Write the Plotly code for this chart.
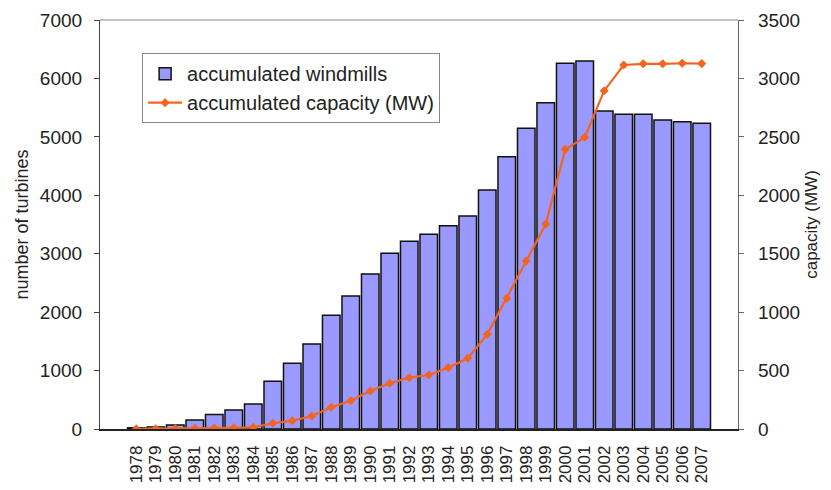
import plotly.graph_objects as go

years = [str(y) for y in range(1978, 2008)]
windmills = [20, 35, 70, 154, 250, 325, 428, 816, 1124, 1455, 1946, 2276, 2653, 3007, 3215,
             3332, 3480, 3646, 4090, 4660, 5146, 5585, 6259, 6298, 5443, 5386, 5386, 5289, 5260, 5232]
capacity = [1, 2, 3, 5, 8, 10, 14, 49, 71, 111, 186, 242, 325, 391, 439,
            462, 525, 605, 810, 1118, 1438, 1754, 2393, 2496, 2895, 3115, 3125, 3125, 3130, 3127]

font_family = "Liberation Sans, Arial, sans-serif"
txt = "#222222"

fig = go.Figure()
fig.add_trace(go.Bar(
    x=years, y=windmills, name="accumulated windmills",
    marker=dict(color="#9999FF", line=dict(color="#111111", width=1.5)),
    yaxis="y",
))
fig.add_trace(go.Scatter(
    x=years, y=capacity, name="accumulated capacity (MW)",
    mode="lines+markers",
    line=dict(color="#F5641E", width=2.2),
    marker=dict(symbol="diamond", size=7, color="#F5641E"),
    yaxis="y2",
))

fig.update_layout(
    width=823, height=482,
    margin=dict(l=92, r=93, t=12, b=61),
    paper_bgcolor="white", plot_bgcolor="white",
    font=dict(family=font_family, size=19, color=txt),
    bargap=0.1,
    showlegend=True,
    legend=dict(
        x=0.066, y=0.919, xanchor="left", yanchor="top",
        bgcolor="white", bordercolor="#888888", borderwidth=1,
        font=dict(size=20, color=txt), tracegroupgap=0,
        itemwidth=34,
    ),
    xaxis=dict(
        type="category", tickangle=-90, tickfont=dict(size=17, color=txt),
        tickmode="linear", dtick=1, tick0=0, ticklabelstandoff=8,
        showline=True, linecolor="#222222", linewidth=1.5,
        ticks="", showgrid=False, zeroline=False, automargin=False,
    ),
    yaxis=dict(
        range=[0, 7000], dtick=1000, tickformat="d",
        showline=True, linecolor="#444444", linewidth=1.2,
        ticks="outside", ticklen=5, tickcolor="#444444",
        ticklabelstandoff=8, automargin=False,
        showgrid=False, zeroline=False,
        tickfont=dict(size=19, color=txt),
        title=dict(text="number of turbines", font=dict(size=18, color=txt), standoff=6),
    ),
    yaxis2=dict(
        range=[0, 3500], dtick=500, tickformat="d",
        overlaying="y", side="right",
        showline=True, linecolor="#666666", linewidth=1.2,
        ticks="outside", ticklen=5, tickcolor="#666666",
        ticklabelstandoff=10, automargin=False,
        showgrid=False, zeroline=False,
        tickfont=dict(size=19, color=txt),
        title=dict(text="capacity (MW)", font=dict(size=17, color=txt), standoff=5),
    ),
    shapes=[dict(type="line", xref="paper", yref="paper", x0=0, x1=1, y0=1, y1=1,
                 line=dict(color="#888888", width=1))],
)

fig.write_html("out.html")
